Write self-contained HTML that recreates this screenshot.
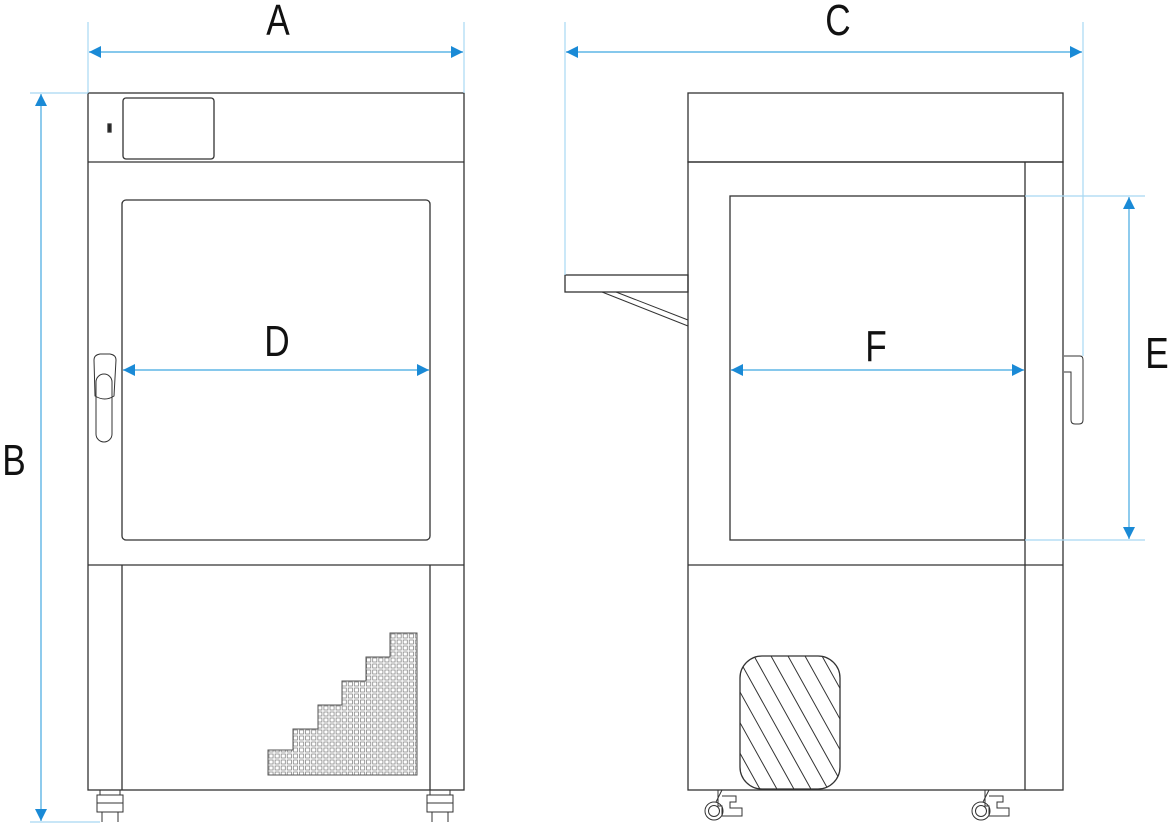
<!DOCTYPE html>
<html><head><meta charset="utf-8"><style>
html,body{margin:0;padding:0;background:#fff}
svg{display:block}
text{font-family:"Liberation Sans",sans-serif;font-size:44px;fill:#111}
</style></head><body>
<svg width="1170" height="824" viewBox="0 0 1170 824" xmlns="http://www.w3.org/2000/svg">
<defs>
<pattern id="g" x="268" y="633" width="6.1" height="6" patternUnits="userSpaceOnUse">
<rect x="1" y="1" width="4.1" height="4" fill="none" stroke="#777" stroke-width="0.7"/>
</pattern>
<clipPath id="oval"><rect x="740" y="656" width="100" height="133" rx="22"/></clipPath>
<marker id="ah" markerWidth="12" markerHeight="12" refX="12" refY="6" orient="auto-start-reverse" markerUnits="userSpaceOnUse">
<path d="M0,0 L12,6 L0,12 Z" fill="#1a8ad6"/></marker>
</defs>
<g fill="none" stroke="#333" stroke-width="1.3">
<rect x="88" y="93" width="376" height="697"/>
<line x1="88" y1="162" x2="464" y2="162"/>
<rect x="123" y="98" width="91" height="61" rx="3"/>
<rect x="108" y="124" width="3" height="8" fill="#222"/>
<rect x="122" y="200" width="308" height="340" rx="4"/>
<line x1="88" y1="565" x2="464" y2="565"/>
<line x1="122" y1="565" x2="122" y2="790"/>
<line x1="430" y1="565" x2="430" y2="790"/>
<path d="M94,360 Q94,355 100,354 L110,354 Q116,355 116,360 L114,396 Q105,402 95,396 Z" stroke-width="1"/>
<rect x="96" y="374" width="16" height="68" rx="8" stroke-width="1"/>
<path d="M268,775 L268,750 L293,750 L293,729 L318,729 L318,705 L342,705 L342,681 L366,681 L366,657 L390,657 L390,633 L417,633 L417,775 Z" fill="url(#g)" stroke="#555" stroke-width="1"/>
<g stroke-width="1">
<path d="M100,790 V795 M120,790 V795"/><rect x="97" y="795" width="26" height="17"/><line x1="97" y1="803" x2="123" y2="803"/><path d="M102,812 L102,822 M118,812 L118,822"/>
<path d="M430,790 V795 M450,790 V795"/><rect x="427" y="795" width="26" height="17"/><line x1="427" y1="803" x2="453" y2="803"/><path d="M432,812 L432,822 M448,812 L448,822"/>
</g>
<rect x="688" y="93" width="375" height="69"/>
<rect x="688" y="162" width="375" height="628"/>
<line x1="1025" y1="162" x2="1025" y2="790"/>
<rect x="730" y="196" width="295" height="344"/>
<line x1="688" y1="565" x2="1063" y2="565"/>
<rect x="565" y="275" width="123" height="17"/>
<path d="M602,292 L688,326 M616,292 L688,320 M688,320 V333" stroke-width="1"/>
<path d="M1064,356 L1080,356 Q1083,356 1083,360 L1083,420 Q1083,424 1079,424 L1075,424 Q1071,424 1071,420 L1071,372 L1064,372" stroke-width="1"/>
<rect x="740" y="656" width="100" height="133" rx="22"/>
<g clip-path="url(#oval)" stroke-width="1">
<path d="M700,620 L800,800 M717,620 L817,800 M734,620 L834,800 M751,620 L851,800 M768,620 L868,800 M785,620 L885,800 M683,620 L783,800 M666,620 L766,800 M649,620 L749,800 M632,620 L732,800 M802,620 L902,800"/>
</g>
<g stroke-width="1">
<circle cx="714" cy="811" r="9"/><circle cx="714" cy="811" r="5.5"/>
<path d="M716,802 L722,790 M718,790 V806 L722,806 V816 M722,796 H736 V802 H730 V808 H742 V816 H722"/>
<circle cx="981" cy="811" r="9"/><circle cx="981" cy="811" r="5.5"/>
<path d="M983,802 L989,790 M985,790 V806 L989,806 V816 M989,796 H1003 V802 H997 V808 H1009 V816 H989"/>
</g>
</g>
<g stroke="#a8d8f2" stroke-width="1.2">
<line x1="88" y1="22" x2="88" y2="93"/><line x1="464" y1="22" x2="464" y2="93"/>
<line x1="30" y1="93" x2="88" y2="93"/><line x1="30" y1="822" x2="100" y2="822"/>
<line x1="565" y1="22" x2="565" y2="275"/><line x1="1083" y1="22" x2="1083" y2="356"/>
<line x1="1025" y1="196" x2="1145" y2="196"/><line x1="1025" y1="540" x2="1145" y2="540"/>
</g>
<g stroke="#5fb5e5" stroke-width="1.4">
<line x1="89" y1="52" x2="463" y2="52" marker-start="url(#ah)" marker-end="url(#ah)"/>
<line x1="41" y1="94" x2="41" y2="821" marker-start="url(#ah)" marker-end="url(#ah)"/>
<line x1="566" y1="52" x2="1082" y2="52" marker-start="url(#ah)" marker-end="url(#ah)"/>
<line x1="1129" y1="197" x2="1129" y2="539" marker-start="url(#ah)" marker-end="url(#ah)"/>
<line x1="123" y1="370" x2="429" y2="370" marker-start="url(#ah)" marker-end="url(#ah)"/>
<line x1="731" y1="370" x2="1024" y2="370" marker-start="url(#ah)" marker-end="url(#ah)"/>
</g>
<g>
<text x="278" y="35" text-anchor="middle" transform="translate(278 0) scale(0.8 1) translate(-278 0)">A</text>
<text x="14" y="475" text-anchor="middle" transform="translate(14 0) scale(0.8 1) translate(-14 0)">B</text>
<text x="838" y="35" text-anchor="middle" transform="translate(838 0) scale(0.8 1) translate(-838 0)">C</text>
<text x="277" y="356" text-anchor="middle" transform="translate(277 0) scale(0.8 1) translate(-277 0)">D</text>
<text x="1157" y="368" text-anchor="middle" transform="translate(1157 0) scale(0.8 1) translate(-1157 0)">E</text>
<text x="876" y="361" text-anchor="middle" transform="translate(876 0) scale(0.8 1) translate(-876 0)">F</text>
</g>
</svg>
</body></html>
